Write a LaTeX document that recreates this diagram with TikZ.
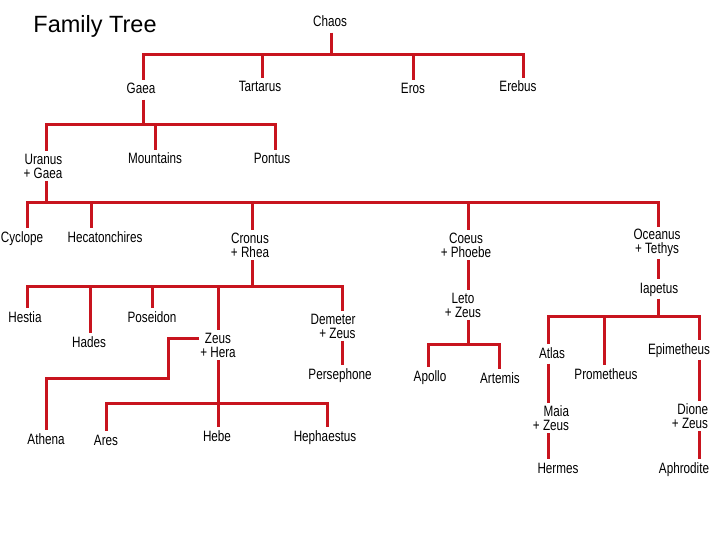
\documentclass[tikz,border=0pt]{standalone}
\usepackage{fontspec}
\usepackage{tikz}
\setmainfont{Liberation Sans}
\newfontfamily\lblfont{Liberation Sans}[FakeStretch=0.78]
\definecolor{famred}{RGB}{200,20,30}
\tikzstyle{couple} = [font=\lblfont\fontsize{15}{14}\selectfont, inner xsep=1pt, inner ysep=2.5pt, align=center]
\tikzstyle{person} = [couple, text height=11pt, text depth=3pt]
\tikzstyle{link} = [draw=famred, line width=3pt]

\begin{document}
\begin{tikzpicture}[x=1pt, y=-1pt]
    \useasboundingbox (0,0) rectangle (720,540);
    \node (title) at (95,26) {\fontsize{23.5}{26}\selectfont Family Tree};

    % first generations
    \node (chaos) [person] at (330,23) {Chaos};
    \node (gaea) [person] at (141,90) {Gaea};
    \node (tartarus) [person] at (260,88) {Tartarus};
    \node (eros) [person] at (413,90) {Eros};
    \node (erebus) [person] at (518,88) {Erebus};
    \node (uranus) [couple, align=right] at (43,166) {Uranus\\+ Gaea};
    \node (mountains) [person] at (155,160) {Mountains};
    \node (pontus) [person] at (272,160) {Pontus};

    % titans
    \node (cyclope) [person] at (22,238) {Cyclope};
    \node (hecat) [person] at (105,238) {Hecatonchires};
    \node (cronus) [couple] at (250,245) {Cronus\\+ Rhea};
    \node (coeus) [couple] at (466,245) {Coeus\\+ Phoebe};
    \node (oceanus) [couple] at (657,243) {Oceanus\\+ Tethys};

    % children of cronus
    \node (hestia) [person] at (25,318) {Hestia};
    \node (hades) [person] at (89,343) {Hades};
    \node (poseidon) [person] at (152,318) {Poseidon};
    \node (zeus) [couple] at (218,345) {Zeus\\+ Hera};
    \node (demeter) [couple, align=right] at (333,326) {Demeter\\+ Zeus};
    \node (persephone) [person] at (340,375) {Persephone};
    \node (athena) [person] at (46,440) {Athena};
    \node (ares) [person] at (106,441) {Ares};
    \node (hebe) [person] at (217,437) {Hebe};
    \node (hephaestus) [person] at (325,437) {Hephaestus};

    % right side
    \node (leto) [couple] at (463,305) {Leto\\+ Zeus};
    \node (apollo) [person] at (430,377) {Apollo};
    \node (artemis) [person] at (500,379) {Artemis};
    \node (iapetus) [person] at (659,289) {Iapetus};
    \node (atlas) [person] at (552,354) {Atlas};
    \node (prometheus) [person] at (606,375) {Prometheus};
    \node (epimetheus) [person] at (679,350) {Epimetheus};
    \node (maia) [couple, align=right] at (551,418) {Maia\\+ Zeus};
    \node (hermes) [person] at (558,469) {Hermes};
    \node (dione) [couple, align=right] at (690,416) {Dione\\+ Zeus};
    \node (aphrodite) [person] at (684,469) {Aphrodite};

    % bars
    \coordinate (bchaos) at (331,55);
    \coordinate (bgaea) at (143,125);
    \coordinate (buranus) at (46,203);
    \coordinate (bcronus) at (252,286);
    \coordinate (bzeus) at (218,403);
    \coordinate (bleto) at (468,344);
    \coordinate (biapetus) at (658,316);
    \coordinate (athenabend) at (168,378);

    \draw [link] (chaos.south -| bchaos) -- (bchaos);
    \draw [link] (bchaos) -| ([xshift=2pt]gaea.north);
    \draw [link] (bchaos) -| ([xshift=2pt]tartarus.north);
    \draw [link] (bchaos) -| (eros.north);
    \draw [link] (bchaos) -| ([xshift=5pt]erebus.north);

    \draw [link] (gaea.south -| bgaea) -- (bgaea);
    \draw [link] (bgaea) -| ([xshift=3pt]uranus.north);
    \draw [link] (bgaea) -| (mountains.north);
    \draw [link] (bgaea) -| ([xshift=3pt]pontus.north);

    \draw [link] (uranus.south -| buranus) -- (buranus);
    \draw [link] (buranus) -| ([xshift=5pt]cyclope.north);
    \draw [link] (buranus) -| ([xshift=-14pt]hecat.north);
    \draw [link] (buranus) -| ([xshift=2pt]cronus.north);
    \draw [link] (buranus) -| ([xshift=2pt]coeus.north);
    \draw [link] (buranus) -| ([xshift=1pt]oceanus.north);

    \draw [link] (cronus.south -| bcronus) -- (bcronus);
    \draw [link] (bcronus) -| ([xshift=2pt]hestia.north);
    \draw [link] (bcronus) -| ([xshift=1pt]hades.north);
    \draw [link] (bcronus) -| (poseidon.north);
    \draw [link] (bcronus) -| (zeus.north);
    \draw [link] (bcronus) -| ([xshift=9pt]demeter.north);
    \draw [link] ([xshift=9pt]demeter.south) -- ([xshift=2pt]persephone.north);

    \draw [link] ([yshift=7pt]zeus.west) -| (athenabend) -| (athena.north);
    \draw [link] (zeus.south) -- (bzeus);
    \draw [link] (bzeus) -| (ares.north);
    \draw [link] (bzeus) -| ([xshift=1pt]hebe.north);
    \draw [link] (bzeus) -| ([xshift=2pt]hephaestus.north);

    \draw [link] ([xshift=2pt]coeus.south) -- ([xshift=5pt]leto.north);
    \draw [link] ([xshift=5pt]leto.south) -- (bleto);
    \draw [link] (bleto) -| ([xshift=-2pt]apollo.north);
    \draw [link] (bleto) -| ([xshift=-1pt]artemis.north);

    \draw [link] ([xshift=1pt]oceanus.south) -- ([xshift=-1pt]iapetus.north);
    \draw [link] ([xshift=-1pt]iapetus.south) -- (biapetus);
    \draw [link] (biapetus) -| ([xshift=-4pt]atlas.north);
    \draw [link] (biapetus) -| ([xshift=-2pt]prometheus.north);
    \draw [link] (biapetus) -| ([xshift=20pt]epimetheus.north);

    \draw [link] ([xshift=-4pt]atlas.south) -- ([xshift=-3pt]maia.north);
    \draw [link] ([xshift=-3pt]maia.south) -- ([xshift=-10pt]hermes.north);
    \draw [link] ([xshift=20pt]epimetheus.south) -- ([xshift=9pt]dione.north);
    \draw [link] ([xshift=9pt]dione.south) -- ([xshift=15pt]aphrodite.north);
\end{tikzpicture}
\end{document}
